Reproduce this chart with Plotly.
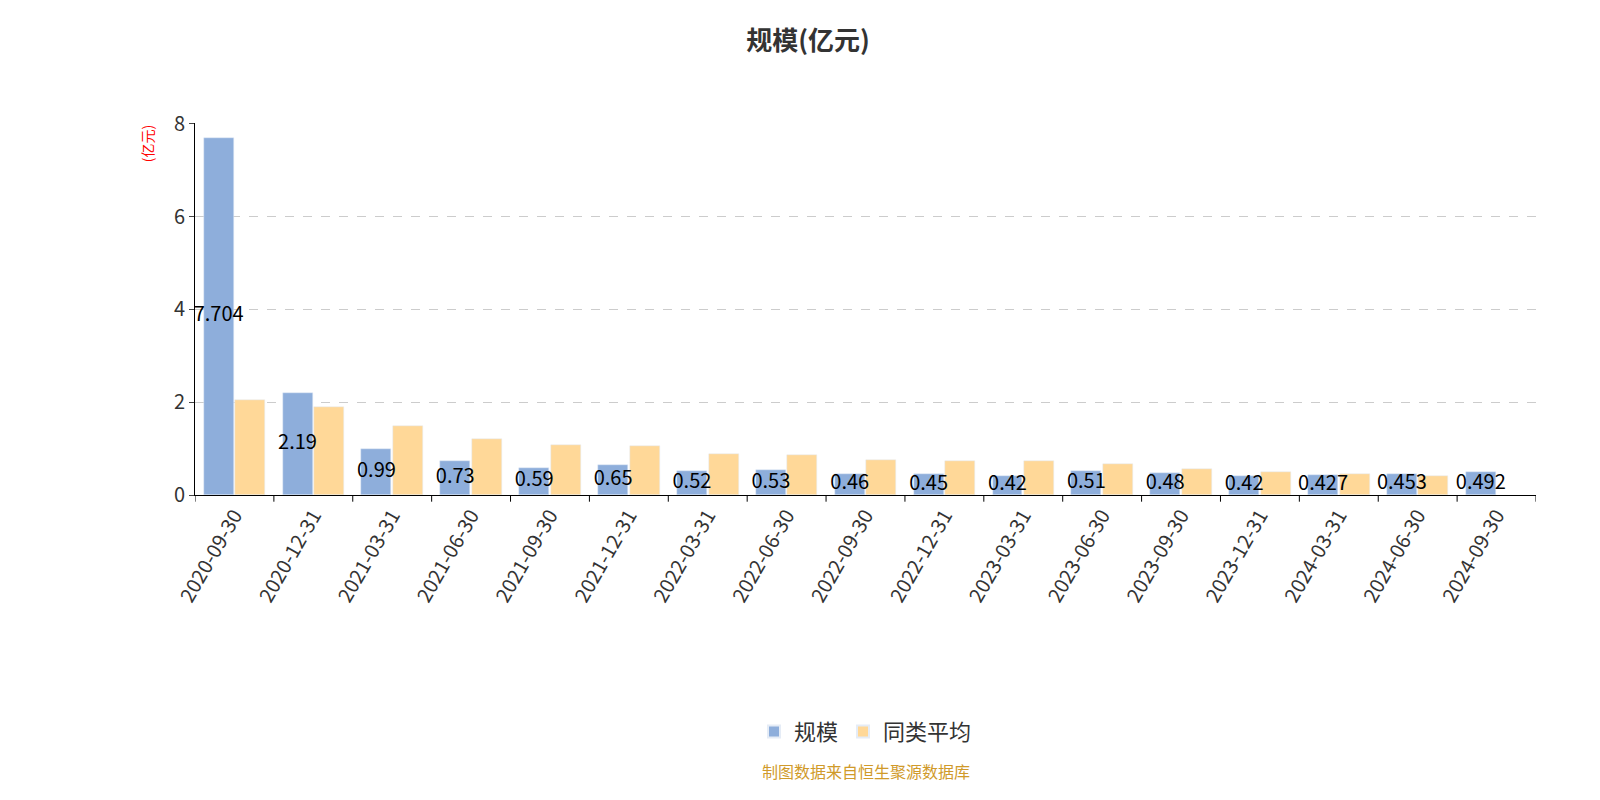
import plotly.graph_objects as go

dates = ['2020-09-30', '2020-12-31', '2021-03-31', '2021-06-30', '2021-09-30', '2021-12-31',
         '2022-03-31', '2022-06-30', '2022-09-30', '2022-12-31', '2023-03-31', '2023-06-30',
         '2023-09-30', '2023-12-31', '2024-03-31', '2024-06-30', '2024-09-30']
scale = [7.704, 2.19, 0.99, 0.73, 0.59, 0.65, 0.52, 0.53, 0.46, 0.45, 0.42, 0.514, 0.48, 0.42, 0.427, 0.453, 0.492]
labels = ['7.704', '2.19', '0.99', '0.73', '0.59', '0.65', '0.52', '0.53', '0.46', '0.45', '0.42', '0.51', '0.48', '0.42', '0.427', '0.453', '0.492']
avg = [2.05, 1.9, 1.48, 1.2, 1.08, 1.05, 0.89, 0.87, 0.76, 0.74, 0.73, 0.67, 0.56, 0.49, 0.45, 0.42, None]

idx = list(range(len(dates)))
xb = [i - 0.2 for i in idx]
xa = [i + 0.2 for i in idx]

fig = go.Figure()
fig.add_trace(go.Bar(x=xb, y=scale, width=0.38, name='规模', marker=dict(color='#8eaedb')))
fig.add_trace(go.Bar(x=xa, y=avg, width=0.38, name='同类平均', marker=dict(color='#ffd898')))
fig.add_trace(go.Scatter(x=xb, y=[v / 2 for v in scale], text=labels, mode='text',
                         textfont=dict(size=20, color='black'), showlegend=False, hoverinfo='skip'))

fig.update_layout(
    width=1600, height=800, plot_bgcolor='white', paper_bgcolor='white',
    font=dict(family='Noto Sans CJK SC', color='#333'),
    title=dict(text='<b>规模(亿元)</b>', x=0.5, y=0.97, font=dict(size=26, color='#333')),
    margin=dict(l=187, r=72, t=115, b=313),
    barmode='overlay', bargap=0,
    legend=dict(orientation='h', x=0.5, xanchor='center', y=-0.58, font=dict(size=22),
                itemsizing='constant'),
    annotations=[
        dict(text='制图数据来自恒生聚源数据库', x=0.5, xref='paper', y=-0.78, yref='paper',
             showarrow=False, font=dict(size=16, color='#d09a2a')),
        dict(text='(亿元)', x=-0.045, xref='paper', y=1.0, yref='paper', yanchor='top', textangle=-90,
             showarrow=False, font=dict(size=14, color='red')),
    ],
)
fig.update_xaxes(range=[-0.5, 16.5], tickvals=idx, ticktext=dates, tickangle=-60,
                 tickfont=dict(size=20), showline=True, linecolor='black', showgrid=False,
                 ticks='outside', ticklen=0)
fig.update_yaxes(range=[0, 8.02], tickvals=[0, 2, 4, 6, 8], tickfont=dict(size=20), showline=True,
                 linecolor='black', ticks='outside', gridcolor='#ccc', griddash='dash', zeroline=False)
for i in range(len(dates) + 1):
    fig.add_shape(type='line', xref='x', yref='paper', x0=i - 0.5, x1=i - 0.5, y0=0, y1=-0.018,
                  line=dict(color='black', width=1))
fig.write_html('out.html')
